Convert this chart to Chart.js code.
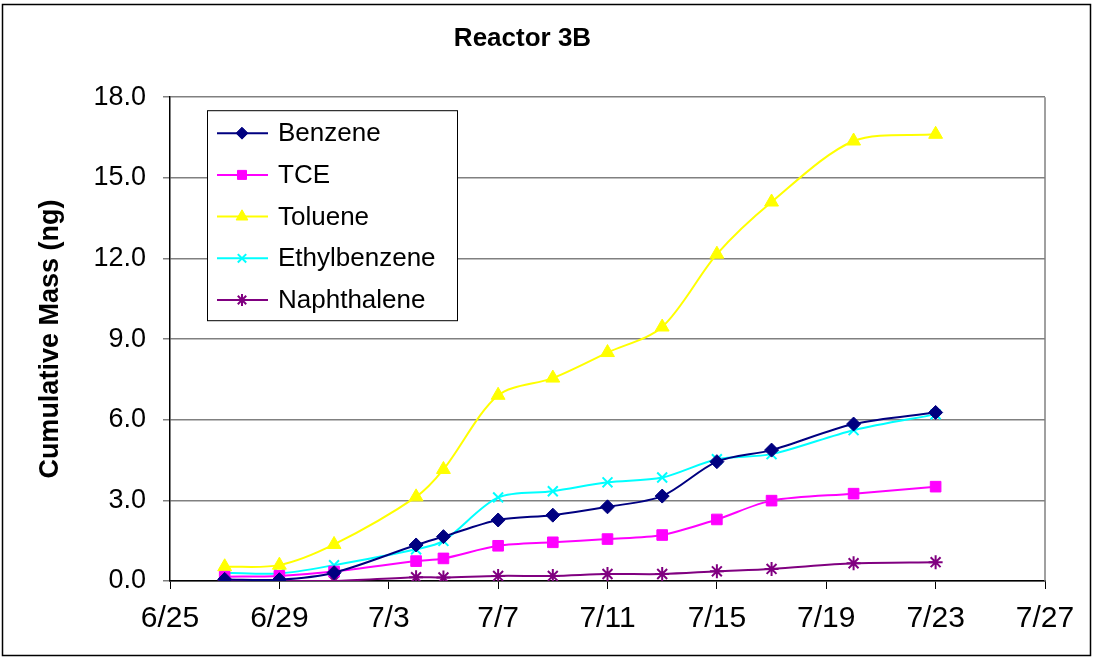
<!DOCTYPE html>
<html>
<head>
<title>Reactor 3B</title>
<script src="https://cdn.jsdelivr.net/npm/chart.js@4.4.0/dist/chart.umd.min.js"></script>
<style>
  body { margin: 0; background: #fff; }
</style>
</head>
<body>
<canvas id="chartCanvas" width="1094" height="665"></canvas>
<script>
// sampling dates and cumulative mass (ng) per compound
const dates = ['6/27', '6/29', '7/1', '7/4', '7/5', '7/7', '7/9', '7/11', '7/13', '7/15', '7/17', '7/20', '7/23'];
const benzene = [0.06, 0.05, 0.31, 1.34, 1.65, 2.27, 2.45, 2.76, 3.16, 4.44, 4.87, 5.84, 6.27];
const tce = [0.16, 0.19, 0.35, 0.74, 0.84, 1.31, 1.44, 1.56, 1.71, 2.29, 2.99, 3.25, 3.51];
const toluene = [0.53, 0.59, 1.36, 3.13, 4.15, 6.91, 7.55, 8.5, 9.45, 12.16, 14.1, 16.37, 16.62];
const ethylbenzene = [0.31, 0.28, 0.59, 1.18, 1.49, 3.11, 3.34, 3.67, 3.85, 4.53, 4.72, 5.61, 6.2];
const naphthalene = [0.0, 0.0, 0.0, 0.14, 0.13, 0.19, 0.19, 0.26, 0.26, 0.36, 0.45, 0.66, 0.7];
const xTickLabels = ['6/25', '6/29', '7/3', '7/7', '7/11', '7/15', '7/19', '7/23', '7/27'];
const yTickValues = [0, 3, 6, 9, 12, 15, 18];

// m/d -> day number (June 1 = 1, July 1 = 31)
function toDay(s) {
    const p = s.split('/');
    return (parseInt(p[0]) - 6) * 30 + parseInt(p[1]);
}
function pts(vals) {
    return vals.map((v, i) => ({ x: toDay(dates[i]), y: v }));
}

const FONT = 'Liberation Sans, Arial, sans-serif';

function series(label, vals, color, style, radius) {
    return {
        label: label,
        data: pts(vals),
        borderColor: color,
        backgroundColor: color,
        borderWidth: 2,
        pointStyle: style,
        pointRadius: radius,
        pointBorderWidth: (style === 'crossRot' || style === 'star') ? 2 : 1,
        tension: 0.3
    };
}

const datasets = [
    series('Benzene', benzene, '#000080', 'rectRot', 7),
    series('TCE', tce, '#FF00FF', 'rect', 7.5),
    series('Toluene', toluene, '#FFFF00', 'triangle', 8),
    series('Ethylbenzene', ethylbenzene, '#00FFFF', 'crossRot', 7),
    series('Naphthalene', naphthalene, '#800080', 'star', 7)
];

// frame around the whole chart, right edge of plot, legend box in the plot
const framePlugin = {
    id: 'frame',
    beforeDraw(chart) {
        const c = chart.ctx;
        c.save();
        c.fillStyle = '#fff';
        c.fillRect(0, 0, chart.width, chart.height);
        c.strokeStyle = '#000';
        c.lineWidth = 1.5;
        c.strokeRect(2.5, 4.5, 1088, 651);
        c.restore();
    },
    beforeDatasetsDraw(chart) {
        const a = chart.chartArea;
        const c = chart.ctx;
        c.save();
        c.strokeStyle = '#808080';
        c.lineWidth = 1.5;
        c.beginPath();
        c.moveTo(a.right, a.top);
        c.lineTo(a.right, a.bottom);
        c.stroke();
        c.restore();
    },
    afterDraw(chart) {
        const a = chart.chartArea;
        const c = chart.ctx;
        const bx = a.left + 37, by = a.top + 13, bw = 250, bh = 210;
        c.save();
        c.fillStyle = '#fff';
        c.fillRect(bx, by, bw, bh);
        c.strokeStyle = '#000';
        c.lineWidth = 1;
        c.strokeRect(bx + 0.5, by + 0.5, bw, bh);
        c.font = '26px ' + FONT;
        c.textBaseline = 'middle';
        chart.data.datasets.forEach((ds, i) => {
            const y = by + 23 + i * 41.7;
            c.strokeStyle = ds.borderColor;
            c.lineWidth = 2;
            c.beginPath();
            c.moveTo(bx + 10, y);
            c.lineTo(bx + 61, y);
            c.stroke();
            c.fillStyle = ds.backgroundColor;
            c.strokeStyle = ds.borderColor;
            c.lineWidth = ds.pointBorderWidth;
            Chart.helpers.drawPoint(c, {
                pointStyle: ds.pointStyle,
                radius: ds.pointRadius * 0.85,
                rotation: 0,
                borderWidth: ds.pointBorderWidth
            }, bx + 35, y);
            c.fillStyle = '#000';
            c.fillText(ds.label, bx + 71, y + 1);
        });
        c.restore();
    }
};

const ctx = document.getElementById('chartCanvas').getContext('2d');
const chart = new Chart(ctx, {
    type: 'line',
    data: { datasets: datasets },
    plugins: [framePlugin],
    options: {
        responsive: false,
        animation: false,
        layout: { padding: { left: 0, right: 49, top: 0, bottom: 24 } },
        plugins: {
            legend: { display: false },
            tooltip: { enabled: false },
            title: {
                display: true,
                text: 'Reactor 3B',
                color: '#000',
                font: { family: FONT, size: 26, weight: 'bold' },
                padding: { top: 23, bottom: 43 }
            }
        },
        scales: {
            x: {
                type: 'linear',
                min: toDay(xTickLabels[0]),
                max: toDay(xTickLabels[xTickLabels.length - 1]),
                afterBuildTicks: s => { s.ticks = xTickLabels.map(l => ({ value: toDay(l) })); },
                afterFit: s => { s.height = 60; },
                ticks: {
                    autoSkip: false,
                    maxRotation: 0,
                    color: '#000',
                    padding: 12,
                    font: { family: FONT, size: 30 },
                    callback: (v, i) => xTickLabels[i]
                },
                grid: { drawOnChartArea: false, tickLength: 8, color: '#000' },
                border: { color: '#000', width: 1.5 }
            },
            y: {
                min: 0,
                max: 18,
                afterBuildTicks: s => { s.ticks = yTickValues.map(v => ({ value: v })); },
                afterFit: s => { s.width = 170; },
                ticks: {
                    color: '#000',
                    padding: 17,
                    font: { family: FONT, size: 27 },
                    callback: v => v.toFixed(1)
                },
                grid: { color: '#808080', lineWidth: 1.5, tickLength: 7 },
                border: { color: '#000', width: 1.5 },
                title: {
                    display: true,
                    text: 'Cumulative Mass (ng)',
                    color: '#000',
                    font: { family: FONT, size: 27, weight: 'bold' },
                    padding: { top: 34, bottom: 0 }
                }
            }
        }
    }
});
</script>
</body>
</html>
